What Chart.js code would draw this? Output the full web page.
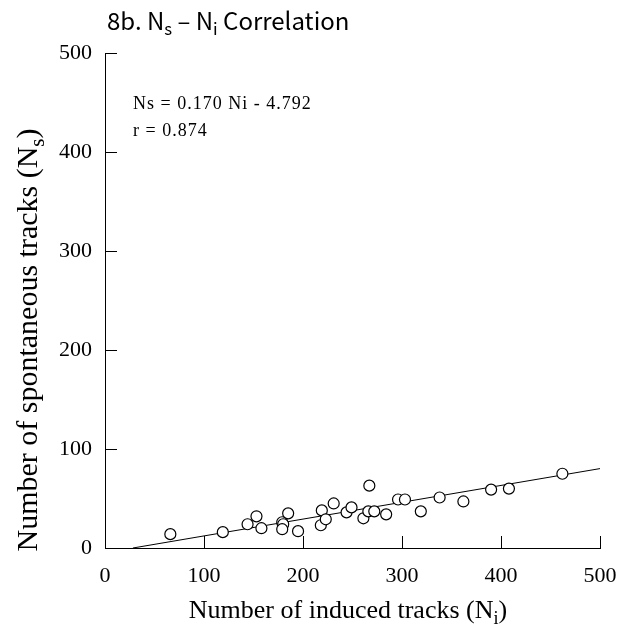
<!DOCTYPE html>
<html>
<head>
<meta charset="utf-8">
<script src="https://cdn.jsdelivr.net/npm/chart.js@4"></script>
<style>
  html, body { margin: 0; padding: 0; background: #fff; }
</style>
</head>
<body>
<canvas id="chart" width="622" height="631"></canvas>
<script>
const inducedTracks = [66, 119, 144, 153, 158, 179, 180, 179, 185, 195, 218, 219, 223, 231, 244, 249, 261, 266, 267, 272, 284, 296, 303, 319, 338, 362, 390, 408, 462];
const spontaneousTracks = [14, 16, 24, 32, 20, 26, 24, 19, 35, 17, 23, 38, 29, 45, 36, 41, 30, 37, 63, 37, 34, 49, 49, 37, 51, 47, 59, 60, 75];
const fitInduced = [28.2, 500];
const fitSpontaneous = [0, 80.2];
const axisTicks = [0, 100, 200, 300, 400, 500];
const equationLines = ['Ns = 0.170 Ni - 4.792', 'r = 0.874'];

const ctx = document.getElementById('chart').getContext('2d');

const serif = '"Liberation Serif", "DejaVu Serif", serif';
const gothic = '"Noto Sans CJK JP", "Noto Sans", sans-serif';

// draws text pieces, some of them as subscripts
function drawRuns(c, runs, x, y, size, family, align) {
    const subSize = size * 0.7;
    let total = 0;
    for (const run of runs) {
        c.font = (run[1] ? subSize : size) + 'px ' + family;
        total += c.measureText(run[0]).width;
    }
    let cx = align === 'center' ? x - total / 2 : x;
    c.textAlign = 'left';
    c.textBaseline = 'alphabetic';
    for (const run of runs) {
        c.font = (run[1] ? subSize : size) + 'px ' + family;
        c.fillText(run[0], cx, run[1] ? y + size * 0.22 : y);
        cx += c.measureText(run[0]).width;
    }
}

const decorations = {
    id: 'decorations',
    afterDraw(chart) {
        const c = chart.ctx;
        const xs = chart.scales.x;
        const ys = chart.scales.y;
        c.save();
        c.strokeStyle = '#000';
        c.lineWidth = 1;
        c.beginPath();
        for (const v of axisTicks) {
            if (v === 0) continue;
            const px = Math.round(xs.getPixelForValue(v)) + 0.5;
            c.moveTo(px, ys.bottom);
            c.lineTo(px, ys.bottom - 12);
            const py = Math.round(ys.getPixelForValue(v)) + 0.5;
            c.moveTo(xs.left, py);
            c.lineTo(xs.left + 12, py);
        }
        c.stroke();

        c.fillStyle = '#000';
        drawRuns(c, [['8b. N'], ['s', true], [' \u2013 N'], ['i', true], [' Correlation']], 107, 30, 24, gothic, 'left');

        drawRuns(c, [['Number of induced tracks (N'], ['i', true], [')']], 348, 618, 26, serif, 'center');

        c.save();
        c.translate(37, 340);
        c.rotate(-Math.PI / 2);
        drawRuns(c, [['Number of spontaneous tracks (N'], ['s', true], [')']], 0, 0, 30, serif, 'center');
        c.restore();

        c.font = '18px ' + serif;
        c.letterSpacing = '1px';
        c.textAlign = 'left';
        c.fillText(equationLines[0], 133, 109);
        c.fillText(equationLines[1], 133, 136);
        c.restore();
    }
};

const scatterPoints = inducedTracks.map((x, i) => ({ x, y: spontaneousTracks[i] }));
const fitPoints = fitInduced.map((x, i) => ({ x, y: fitSpontaneous[i] }));

new Chart(ctx, {
    type: 'scatter',
    data: {
        datasets: [{
            data: scatterPoints,
            pointRadius: 5.5,
            pointHoverRadius: 5.5,
            backgroundColor: '#fff',
            borderColor: '#000',
            borderWidth: 1.2
        }, {
            type: 'line',
            data: fitPoints,
            showLine: true,
            pointRadius: 0,
            borderColor: '#000',
            borderWidth: 1,
            fill: false
        }]
    },
    options: {
        responsive: false,
        animation: false,
        devicePixelRatio: 1,
        layout: { padding: { top: 53, right: 22, left: 0, bottom: 0 } },
        plugins: {
            legend: { display: false },
            tooltip: { enabled: false }
        },
        scales: {
            x: {
                type: 'linear',
                min: 0,
                max: 500,
                afterFit(scale) {
                    scale.height = 83;
                    scale.paddingLeft = 0;
                    scale.paddingRight = 0;
                },
                grid: { display: false, drawTicks: false },
                border: { display: true, color: '#000', width: 1 },
                ticks: {
                    stepSize: 100,
                    padding: 15,
                    color: '#000',
                    font: { family: serif, size: 22 }
                }
            },
            y: {
                type: 'linear',
                min: 0,
                max: 500,
                afterFit(scale) {
                    scale.width = 105;
                    scale.paddingTop = 0;
                    scale.paddingBottom = 0;
                },
                grid: { display: false, drawTicks: false },
                border: { display: true, color: '#000', width: 1 },
                ticks: {
                    stepSize: 100,
                    padding: 13,
                    color: '#000',
                    font: { family: serif, size: 22 }
                }
            }
        }
    },
    plugins: [decorations]
});
</script>
</body>
</html>
